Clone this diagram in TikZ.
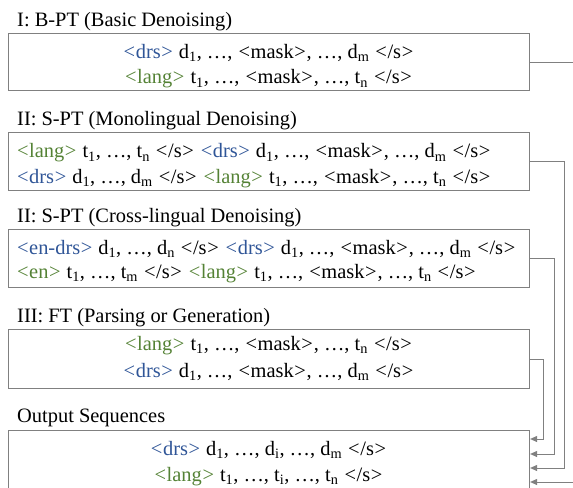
\documentclass[tikz,border=0pt]{standalone}
\usepackage{fontspec}
\setmainfont{Liberation Serif}
\usetikzlibrary{arrows.meta,calc}
\definecolor{tagblue}{RGB}{47,85,151}
\definecolor{taggreen}{RGB}{84,130,53}
\definecolor{linegray}{RGB}{128,128,128}
\newcommand{\tg}[1]{\kern0.9bp\relax<\kern0.6bp\relax#1\kern0.6bp\relax>\kern0.9bp\relax}
\newcommand{\dtag}[1]{\textcolor{tagblue}{\tg{#1}}}
\newcommand{\ltag}[1]{\textcolor{taggreen}{\tg{#1}}}
\newcommand{\sbs}[1]{\textsubscript{#1}}
\begin{document}
\begin{tikzpicture}[x=1bp,y=-1bp,
  seqbox/.style={draw=linegray, line width=1.1bp, minimum width=521bp,
    minimum height=58bp, inner sep=0pt, anchor=north west},
  txt/.style={inner sep=0pt, font=\fontsize{20.5}{24}\selectfont},
  ctxt/.style={txt, anchor=base},
  ltxt/.style={txt, anchor=base west},
  conn/.style={draw=linegray, line width=1bp, -{Triangle[length=7bp,width=6bp]}}]
\useasboundingbox (0,0) rectangle (573,488);
\clip (0,0) rectangle (573,488);
% boxes
\node[seqbox, minimum height=57bp] (b1) at (8,33) {};
\node[seqbox] (b2) at (8,132) {};
\node[seqbox] (b3) at (8,229) {};
\node[seqbox, minimum height=59bp] (b4) at (8,329) {};
\node[seqbox, minimum height=59bp] (b5) at (8,430) {};
% titles
\node[ltxt] (h1) at (17,27) {I: B-PT (Basic Denoising)};
\node[ltxt] (h2) at (17,126) {II: S-PT (Monolingual Denoising)};
\node[ltxt] (h3) at (17,223) {II: S-PT (Cross-lingual Denoising)};
\node[ltxt] (h4) at (17,322) {III: FT (Parsing or Generation)};
\node[ltxt] (h5) at (17,422) {Output Sequences};
% box 1
\node[ctxt] (l11) at (268.5,58.5) {\dtag{drs} d\sbs{1}, …, \tg{mask}, …, d\sbs{m} \tg{/s}};
\node[ctxt] (l12) at (268.5,84) {\ltag{lang} t\sbs{1}, …, \tg{mask}, …, t\sbs{n} \tg{/s}};
% box 2
\node[ltxt] (l21) at (16,158) {\ltag{lang} t\sbs{1}, …, t\sbs{n} \tg{/s} \dtag{drs} d\sbs{1}, …, \tg{mask}, …, d\sbs{m} \tg{/s}};
\node[ltxt] (l22) at (16,183.5) {\dtag{drs} d\sbs{1}, …, d\sbs{m} \tg{/s} \ltag{lang} t\sbs{1}, …, \tg{mask}, …, t\sbs{n} \tg{/s}};
% box 3
\node[ltxt] (l31) at (16,254) {\dtag{en-drs} d\sbs{1}, …, d\sbs{n} \tg{/s} \dtag{drs} d\sbs{1}, …, \tg{mask}, …, d\sbs{m} \tg{/s}};
\node[ltxt] (l32) at (16,278.5) {\ltag{en} t\sbs{1}, …, t\sbs{m} \tg{/s} \ltag{lang} t\sbs{1}, …, \tg{mask}, …, t\sbs{n} \tg{/s}};
% box 4
\node[ctxt] (l41) at (268.5,350.5) {\ltag{lang} t\sbs{1}, …, \tg{mask}, …, t\sbs{n} \tg{/s}};
\node[ctxt] (l42) at (268.5,377) {\dtag{drs} d\sbs{1}, …, \tg{mask}, …, d\sbs{m} \tg{/s}};
% box 5
\node[ctxt] (l51) at (268.5,455) {\dtag{drs} d\sbs{1}, …, d\sbs{i}, …, d\sbs{m} \tg{/s}};
\node[ctxt] (l52) at (268.5,481) {\ltag{lang} t\sbs{1}, …, t\sbs{i}, …, t\sbs{n} \tg{/s}};
% arrow targets
\coordinate (a4) at ($(b5.north east)+(0,9)$);
\coordinate (a3) at ($(b5.north east)+(0,24)$);
\coordinate (a2) at ($(b5.north east)+(0,38)$);
\coordinate (a1) at ($(b5.north east)+(0,52)$);
% connectors
\draw[conn] (b1.east) -- ++(46,0) |- (a1);
\draw[conn] (b2.east) -- ++(34,0) |- (a2);
\draw[conn] (b3.east) -- ++(24,0) |- (a3);
\draw[conn] (b4.east) -- ++(13,0) |- (a4);
\end{tikzpicture}
\end{document}
